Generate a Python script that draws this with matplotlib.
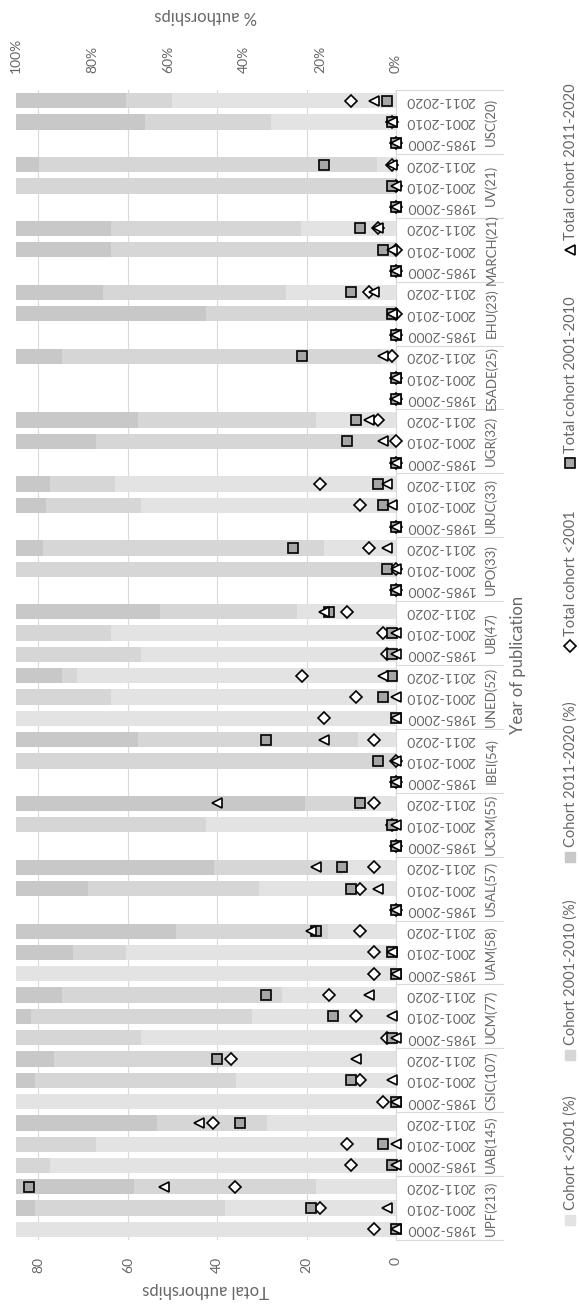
import numpy as np
import matplotlib.pyplot as plt

plt.rcParams['font.family'] = ['Lato', 'DejaVu Sans']

# categories, bottom (first) to top (last)
universities = ['UPF(213)', 'UAB(145)', 'CSIC(107)', 'UCM(77)', 'UAM(58)', 'USAL(57)',
                'UC3M(55)', 'IBEI(54)', 'UNED(52)', 'UB(47)', 'UPO(33)', 'URJC(33)',
                'UGR(32)', 'ESADE(25)', 'EHU(23)', 'MARCH(21)', 'UV(21)', 'USC(20)']
periods = ['1985-2000', '2001-2010', '2011-2020']

# total authorships per cohort (3 values per university: 1985-2000, 2001-2010, 2011-2020)
total_pre2001 = [5, 17, 36,  10, 11, 41,  3, 8, 37,  2, 9, 15,  5, 5, 8,  0, 8, 5,
                 0, 1, 5,  0, 0, 5,  16, 9, 21,  2, 3, 11,  0, 0, 6,  0, 8, 17,
                 0, 0, 4,  0, 0, 1,  0, 0, 6,  0, 0, 4,  0, 0, 1,  0, 1, 10]
total_2001_2010 = [0, 19, 82,  1, 3, 35,  0, 10, 40,  1, 14, 29,  0, 1, 18,  0, 10, 12,
                   0, 1, 8,  0, 4, 29,  0, 3, 1,  1, 1, 15,  0, 2, 23,  0, 3, 4,
                   0, 11, 9,  0, 0, 21,  0, 1, 10,  0, 3, 8,  0, 1, 16,  0, 1, 2]
total_2011_2020 = [0, 2, 52,  0, 0, 44,  0, 1, 9,  0, 1, 6,  0, 1, 19,  0, 4, 18,
                   0, 0, 40,  0, 0, 16,  0, 0, 3,  0, 0, 16,  0, 0, 2,  0, 1, 2,
                   0, 3, 6,  0, 0, 3,  0, 1, 5,  0, 1, 4,  0, 0, 1,  0, 1, 5]

# share of authorships per cohort (%)
pct_pre2001 = [100, 45, 21,  91, 79, 34,  100, 42, 43,  67, 38, 30,  100, 71, 18,  0, 36, 14,
               0, 50, 9,  0, 0, 10,  100, 75, 84,  67, 75, 26,  0, 0, 19,  0, 67, 74,
               0, 0, 21,  0, 0, 4,  0, 0, 29,  0, 0, 25,  0, 0, 5,  0, 33, 59]
pct_2001_2010 = [0, 50, 48,  9, 21, 29,  0, 53, 47,  33, 58, 58,  0, 14, 40,  0, 45, 34,
                 0, 50, 15,  0, 100, 58,  0, 25, 4,  33, 25, 36,  0, 100, 74,  0, 25, 17,
                 0, 79, 47,  0, 0, 84,  0, 50, 48,  0, 75, 50,  0, 100, 89,  0, 33, 12]
pct_2011_2020 = [0, 5, 31,  0, 0, 37,  0, 5, 10,  0, 4, 12,  0, 15, 42,  0, 19, 52,
                 0, 0, 76,  0, 0, 32,  0, 0, 12,  0, 0, 38,  0, 0, 7,  0, 8, 9,
                 0, 21, 32,  0, 0, 12,  0, 50, 23,  0, 25, 25,  0, 0, 6,  0, 34, 29]

c_pre, c_mid, c_new = '#e3e3e3', '#d6d6d6', '#c8c8c8'
txt = '#666666'
grid_c = '#d9d9d9'

W, H = 579, 1304
fig = plt.figure(figsize=(W / 100, H / 100), dpi=100)


def fx(x):
    return x / W


def fy(y):
    return 1 - y / H


rect = [fx(16), fy(1240), fx(396) - fx(16), fy(90) - fy(1240)]
y = np.arange(len(periods) * len(universities))

# totals axis (bottom) with gridlines
ax = fig.add_axes(rect)
ax.set_xlim(85, 0)
ax.set_ylim(-0.5, len(y) - 0.5)
ax.set_xticks([0, 20, 40, 60, 80])
ax.grid(axis='x', color=grid_c, lw=0.8)
ax.set_axisbelow(True)
ax.tick_params(axis='x', length=0, pad=12, labelrotation=90, labelsize=10, colors=txt)
ax.yaxis.tick_right()
ax.set_yticks(y)
ax.set_yticklabels(periods * len(universities), rotation=180)
ax.tick_params(axis='y', length=0, pad=7, labelsize=10, colors=txt)
for lbl in ax.get_yticklabels():
    lbl.set_va('center')
for s in ['top', 'left', 'bottom']:
    ax.spines[s].set_visible(False)
ax.spines['right'].set_color(grid_c)

# university separators and labels
tr = ax.get_yaxis_transform()
for k in range(len(universities) + 1):
    ax.plot([1.0, 1.2816], [3 * k - 0.5] * 2, color=grid_c, lw=0.8,
            transform=tr, clip_on=False)
for k, u in enumerate(universities):
    ax.text(1.25, 3 * k + 1, u, transform=tr, rotation=90, ha='center',
            va='center', fontsize=9.5, color=txt)

# percent bars
axp = fig.add_axes(rect, sharey=ax)
axp.patch.set_visible(False)
axp.set_xlim(100, 0)
axp.xaxis.tick_top()
axp.set_xticks([0, 20, 40, 60, 80, 100])
axp.set_xticklabels(['0%', '20%', '40%', '60%', '80%', '100%'])
axp.tick_params(axis='x', length=0, pad=12, labelrotation=90, labelsize=10, colors=txt)
axp.yaxis.set_visible(False)
for s in axp.spines.values():
    s.set_visible(False)

p1 = np.array(pct_pre2001)
p2 = np.array(pct_2001_2010)
p3 = np.array(pct_2011_2020)
axp.barh(y, p1, height=0.72, color=c_pre)
axp.barh(y, p2, left=p1, height=0.72, color=c_mid)
axp.barh(y, p3, left=p1 + p2, height=0.72, color=c_new)

# total markers on top
axm = fig.add_axes(rect, sharex=ax, sharey=ax)
axm.patch.set_visible(False)
axm.axis('off')
mk = dict(ls='none', mec='black', mew=1.2, clip_on=False)
axm.plot(total_pre2001, y, marker='D', ms=6, mfc='white', **mk)
axm.plot(total_2001_2010, y, marker='s', ms=6.5, mfc='#a6a6a6', **mk)
axm.plot(total_2011_2020, y, marker='<', ms=7.5, mfc='white', **mk)

# axis titles
fig.text(fx(206), fy(16), '% authorships', rotation=180, ha='center', va='center',
         fontsize=12, color=txt)
fig.text(fx(206), fy(1290), 'Total authorships', rotation=180, ha='center',
         va='center', fontsize=12, color=txt)
fig.text(fx(518), fy(665), 'Year of publication', rotation=90, ha='center',
         va='center', fontsize=12, color=txt)

# legend
leg_items = [
    ('Cohort <2001 (%)', 1220, dict(marker='s', ms=7, mfc=c_pre, mec=c_pre)),
    ('Cohort 2001-2010 (%)', 1055, dict(marker='s', ms=7, mfc=c_mid, mec=c_mid)),
    ('Cohort 2011-2020 (%)', 857, dict(marker='s', ms=7, mfc=c_new, mec=c_new)),
    ('Total cohort <2001', 646, dict(marker='D', ms=6, mfc='white', mec='black', mew=1.2)),
    ('Total cohort 2001-2010', 463, dict(marker='s', ms=6.5, mfc='#a6a6a6', mec='black', mew=1.2)),
    ('Total cohort 2011-2020', 250, dict(marker='<', ms=7.5, mfc='white', mec='black', mew=1.2)),
]
for label, ly, style in leg_items:
    fig.lines.append(plt.Line2D([fx(570)], [fy(ly)], transform=fig.transFigure, **style))
    fig.text(fx(571), fy(ly - 10), label, rotation=90, rotation_mode='anchor',
             ha='left', va='center', fontsize=10.5, color=txt)

fig.savefig('out.png', dpi=100)
